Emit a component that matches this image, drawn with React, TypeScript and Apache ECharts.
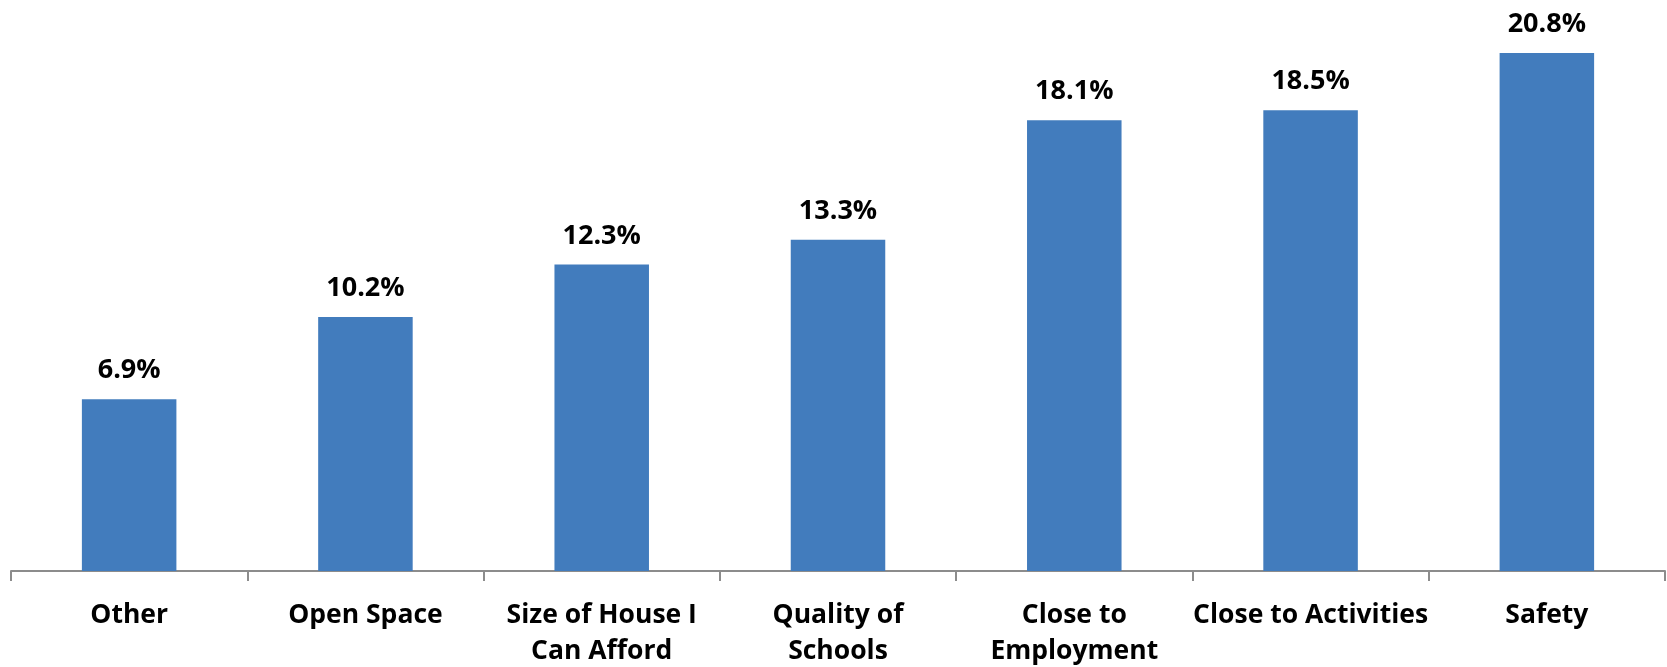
import React, { useEffect, useRef } from "react";
import * as echarts from "echarts";

const categories = [
  "Other",
  "Open Space",
  "Size of House I\nCan Afford",
  "Quality of\nSchools",
  "Close to\nEmployment",
  "Close to Activities",
  "Safety",
];
const values = [6.9, 10.2, 12.3, 13.3, 18.1, 18.5, 20.8];

export default function App() {
  const ref = useRef<HTMLDivElement>(null);
  useEffect(() => {
    if (!ref.current) return;
    const chart = echarts.init(ref.current, null, { renderer: "svg" });
    chart.setOption({
      animation: false,
      grid: { left: 11, right: 2, top: 23, bottom: 96, containLabel: false },
      xAxis: {
        type: "category",
        data: categories,
        axisLine: { lineStyle: { color: "#8c8c8c", width: 2 } },
        axisTick: { show: true, length: 10, lineStyle: { color: "#8c8c8c", width: 2 } },
        axisLabel: {
          interval: 0,
          margin: 24,
          fontFamily: "Open Sans",
          fontWeight: "bold",
          fontSize: 26.5,
          color: "#000",
          lineHeight: 36,
        },
      },
      yAxis: {
        type: "value",
        min: 0,
        max: 22,
        show: false,
        splitLine: { show: false },
      },
      series: [
        {
          type: "bar",
          data: values,
          barWidth: "40%",
          itemStyle: { color: "#427CBD" },
          label: {
            show: true,
            position: "top",
            distance: 18,
            formatter: (p: any) => p.value.toFixed(1) + "%",
            fontFamily: "Open Sans",
            fontWeight: "bold",
            fontSize: 27,
            color: "#000",
          },
        },
      ],
    });
    return () => chart.dispose();
  }, []);
  return (
    <div
      ref={ref}
      style={{ position: "fixed", left: 0, top: 0, width: 1667, height: 667 }}
    />
  );
}
